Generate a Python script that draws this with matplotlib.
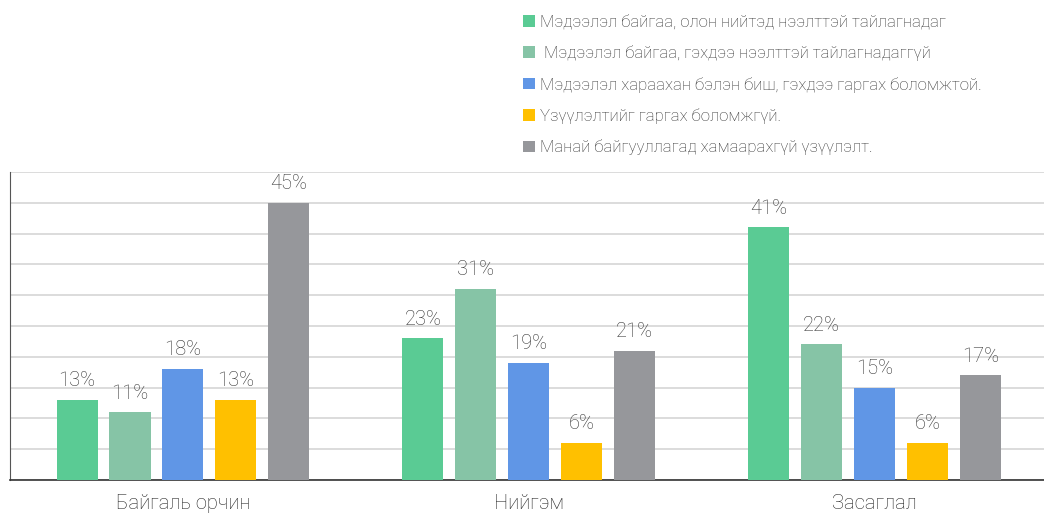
import matplotlib
matplotlib.use("Agg")
import matplotlib.pyplot as plt
from matplotlib.patches import Patch
import numpy as np

categories = ["Байгаль орчин", "Нийгэм", "Засаглал"]
series_names = [
    "Мэдээлэл байгаа, олон нийтэд нээлттэй тайлагнадаг",
    " Мэдээлэл байгаа, гэхдээ нээлттэй тайлагнадаггүй",
    "Мэдээлэл хараахан бэлэн биш, гэхдээ гаргах боломжтой.",
    "Үзүүлэлтийг гаргах боломжгүй.",
    "Манай байгууллагад хамаарахгүй үзүүлэлт.",
]
values = [
    [13, 23, 41],
    [11, 31, 22],
    [18, 19, 15],
    [13, 6, 6],
    [45, 21, 17],
]
colors = ["#5ACB94", "#86C4A6", "#6096E6", "#FFC000", "#96979B"]

plt.rcParams['font.family'] = ['Roboto', 'DejaVu Sans']

fig = plt.figure(figsize=(10.44, 5.14), dpi=100)
ax = fig.add_axes([10/1044, 34/514, 1 - 10/1044, (480-172)/514])

x = np.arange(len(categories))
step = 0.153
width = 0.119
n = len(values)
for i, (vals, c) in enumerate(zip(values, colors)):
    pos = x + (i - (n - 1) / 2) * step
    bars = ax.bar(pos, vals, width=width, color=c, zorder=3)
    for b, v in zip(bars, vals):
        ax.annotate(f"{v}%", (b.get_x() + b.get_width() / 2, v),
                    xytext=(0, 7), textcoords="offset points",
                    ha="center", va="bottom", fontsize=14.5,
                    color="#333333", fontweight="light")

ax.set_xlim(-0.5, 2.49)
ax.set_ylim(0, 50)
ax.set_yticks(np.arange(0, 51, 5))
ax.set_yticklabels([])
ax.yaxis.grid(True, color="#d9d9d9", linewidth=1.3, zorder=0)
ax.set_axisbelow(True)
ax.tick_params(axis="both", length=0)
ax.set_xticks(x)
ax.set_xticklabels(categories, fontsize=14.5, color="#222222", fontweight="light")
ax.tick_params(axis="x", pad=10)
for s in ["top", "right"]:
    ax.spines[s].set_visible(False)
ax.spines["left"].set_color("#555555")
ax.spines["bottom"].set_color("#333333")
ax.spines["bottom"].set_linewidth(1.2)

handles = [Patch(facecolor=c, edgecolor="none") for c in colors]
leg = fig.legend(handles, series_names, loc="upper left",
                 bbox_to_anchor=(508/1044, 1 + 1/514), frameon=False,
                 handlelength=0.68, handleheight=0.68,
                 handletextpad=0.3, labelspacing=0.92,
                 prop={'weight': 'light', 'size': 12.1})
for t in leg.get_texts():
    t.set_color("#333333")

fig.savefig("out.png", dpi=100)
